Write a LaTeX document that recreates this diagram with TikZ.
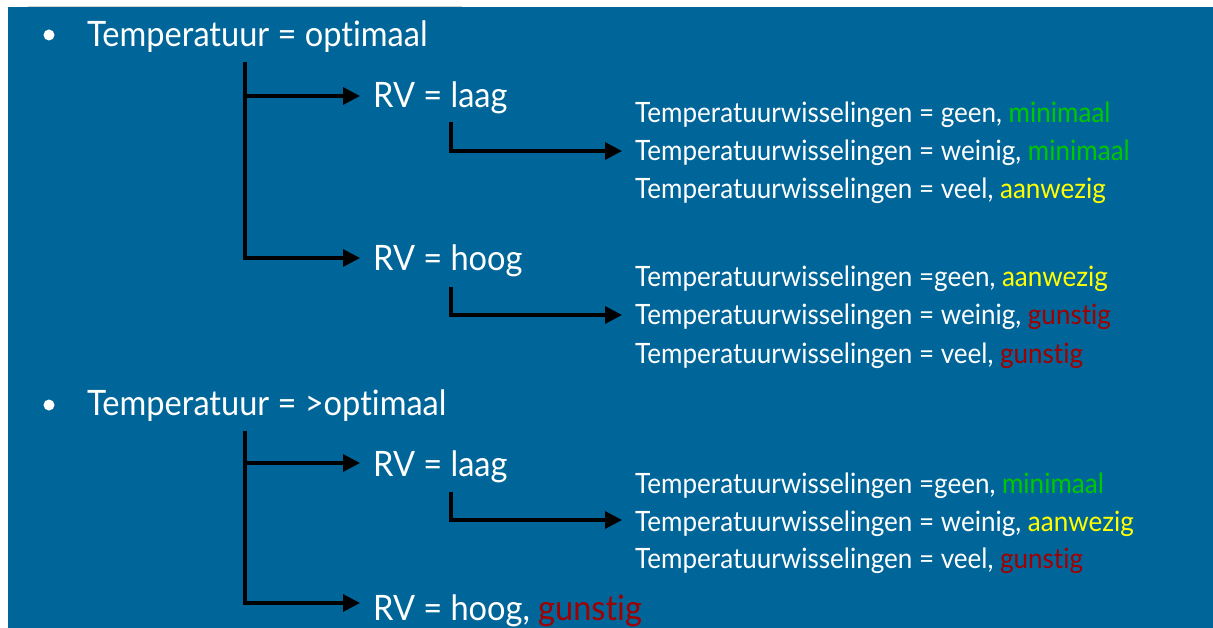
\documentclass[tikz,border=0pt]{standalone}
\usepackage{fontspec}
\setmainfont{Lato}[FakeStretch=0.93,Ligatures=NoCommon]
\usetikzlibrary{arrows.meta,calc}
\definecolor{bg}{HTML}{006699}
\definecolor{okgreen}{HTML}{00C800}
\definecolor{warnyellow}{HTML}{FFFF00}
\definecolor{badred}{HTML}{A00000}
\begin{document}
\begin{tikzpicture}[x=1pt,y=-1pt,
  big/.style={anchor=base west, inner sep=0pt, text=white, font=\fontsize{35}{40}\selectfont},
  small/.style={anchor=base west, inner sep=0pt, text=white, font=\fontsize{28}{32}\selectfont},
  conn/.style={line width=3.1pt, -{Triangle[length=17pt,width=17pt]}},
  dot/.style={circle, fill=white, inner sep=0pt, minimum size=11pt}]
\useasboundingbox (0,0) rectangle (1213,628);
\fill[bg] (8,7) rectangle (1213,628);
\draw[gray!35, line width=0.8pt] (28,6.5) -- (462,6.5);

% first bullet
\node[dot] (d1) at (49,35) {};
\node[big] (b1) at (87,47) {Temperatuur = optimaal};
\node[big] (r1) at (373,108) {RV = laag};
\node[big] (r2) at (373,271) {RV = hoog};
\node[small] (g11) at (635,123) {Temperatuurwisselingen = geen, \textcolor{okgreen}{minimaal}};
\node[small] (g12) at (635,161) {Temperatuurwisselingen = weinig, \textcolor{okgreen}{minimaal}};
\node[small] (g13) at (635,199) {Temperatuurwisselingen = veel, \textcolor{warnyellow}{aanwezig}};
\node[small] (g21) at (635,287) {Temperatuurwisselingen =geen, \textcolor{warnyellow}{aanwezig}};
\node[small] (g22) at (635,325) {Temperatuurwisselingen = weinig, \textcolor{badred}{gunstig}};
\node[small] (g23) at (635,363) {Temperatuurwisselingen = veel, \textcolor{badred}{gunstig}};

% second bullet
\node[dot] (d2) at (49,405) {};
\node[big] (b2) at (87,415) {Temperatuur = >optimaal};
\node[big] (r3) at (373,476) {RV = laag};
\node[big] (r4) at (373,620) {RV = hoog, \textcolor{badred}{gunstig}};
\node[small] (g31) at (635,493) {Temperatuurwisselingen =geen, \textcolor{okgreen}{minimaal}};
\node[small] (g32) at (635,531) {Temperatuurwisselingen = weinig, \textcolor{warnyellow}{aanwezig}};
\node[small] (g33) at (635,568) {Temperatuurwisselingen = veel, \textcolor{badred}{gunstig}};

% connectors
\coordinate (t1) at ($(b1.base west)+(158,15)$);
\draw[conn] (t1) |- ($(r1.base west)+(-13,-12)$);
\draw[conn] (t1) |- ($(r2.base west)+(-13,-13)$);
\coordinate (s1) at ($(r1.base west)+(78,14)$);
\draw[conn] (s1) |- ($(g12.base west)+(-13,-10)$);
\coordinate (s2) at ($(r2.base west)+(78,16)$);
\draw[conn] (s2) |- ($(g22.base west)+(-13,-10)$);

\coordinate (t2) at ($(b2.base west)+(158,16)$);
\draw[conn] (t2) |- ($(r3.base west)+(-13,-13)$);
\draw[conn] (t2) |- ($(r4.base west)+(-13,-17)$);
\coordinate (s3) at ($(r3.base west)+(78,16)$);
\draw[conn] (s3) |- ($(g32.base west)+(-13,-11)$);
\end{tikzpicture}
\end{document}
